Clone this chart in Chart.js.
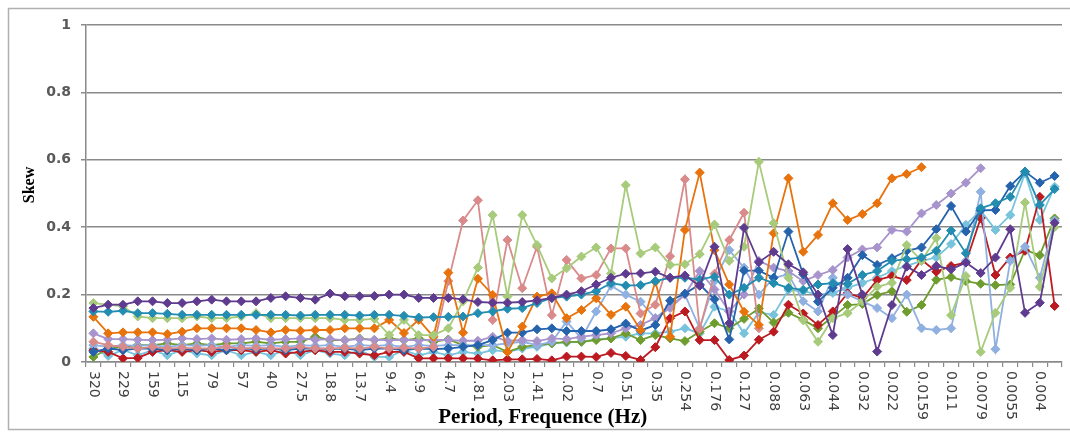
<!DOCTYPE html>
<html lang="en">
<head>
<meta charset="UTF-8">
<title>Skew by period</title>
<script src="https://cdn.jsdelivr.net/npm/chart.js"></script>
<style>
  html, body { margin: 0; padding: 0; background: #fff; }
  #wrap { width: 1070px; height: 434px; position: relative; }
</style>
</head>
<body>
<div id="wrap"><canvas id="skewChart"></canvas></div>
<script>
// period labels, only every other category carries one
const tickLabels = ['320', '229', '159', '115', '79', '57', '40', '27.5', '18.8', '13.7', '9.4',
  '6.9', '4.7', '2.81', '2.03', '1.41', '1.02', '0.7', '0.51', '0.35', '0.254', '0.176',
  '0.127', '0.088', '0.063', '0.044', '0.032', '0.022', '0.0159', '0.011', '0.0079', '0.0055', '0.004'];
const categories = tickLabels.flatMap(l => [l, '']);

const yTicks = [0, 0.2, 0.4, 0.6, 0.8, 1];

const skewPurple = [0.16, 0.17, 0.17, 0.18, 0.18, 0.175, 0.175, 0.18, 0.185, 0.18,
  0.18, 0.18, 0.19, 0.195, 0.19, 0.185, 0.203, 0.195, 0.195, 0.196,
  0.2, 0.2, 0.19, 0.19, 0.19, 0.186, 0.178, 0.176, 0.176, 0.178,
  0.183, 0.19, 0.2, 0.21, 0.23, 0.25, 0.262, 0.263, 0.268, 0.25,
  0.257, 0.226, 0.342, 0.115, 0.398, 0.296, 0.327, 0.29, 0.266, 0.2,
  0.08, 0.335, 0.2, 0.031, 0.169, 0.283, 0.258, 0.285, 0.275, 0.295,
  0.264, 0.31, 0.394, 0.146, 0.176, 0.413];

const skewTeal = [0.15, 0.149, 0.152, 0.145, 0.145, 0.143, 0.14, 0.14, 0.14, 0.14,
  0.14, 0.14, 0.14, 0.14, 0.138, 0.14, 0.14, 0.14, 0.138, 0.14,
  0.14, 0.137, 0.132, 0.133, 0.134, 0.135, 0.145, 0.15, 0.158, 0.16,
  0.175, 0.19, 0.194, 0.2, 0.21, 0.234, 0.227, 0.228, 0.24, 0.25,
  0.25, 0.245, 0.253, 0.2, 0.22, 0.25, 0.234, 0.22, 0.214, 0.23,
  0.234, 0.232, 0.258, 0.27, 0.3, 0.305, 0.31, 0.33, 0.39, 0.323,
  0.456, 0.471, 0.49, 0.565, 0.466, 0.513];

const skewLightGreen = [0.175, 0.17, 0.165, 0.135, 0.13, 0.13, 0.13, 0.135, 0.13, 0.13,
  0.135, 0.145, 0.13, 0.13, 0.13, 0.13, 0.13, 0.125, 0.125, 0.128,
  0.08, 0.125, 0.08, 0.08, 0.1, 0.18, 0.28, 0.436, 0.194, 0.436,
  0.347, 0.248, 0.278, 0.313, 0.34, 0.262, 0.525, 0.322, 0.34, 0.288,
  0.29, 0.32, 0.408, 0.3, 0.342, 0.594, 0.412, 0.25, 0.125, 0.06,
  0.13, 0.145, 0.18, 0.223, 0.235, 0.347, 0.3, 0.368, 0.139, 0.255,
  0.03, 0.146, 0.22, 0.473, 0.223, 0.4];

const skewOrange = [0.134, 0.085, 0.088, 0.088, 0.088, 0.083, 0.09, 0.1, 0.1, 0.1,
  0.1, 0.095, 0.088, 0.095, 0.093, 0.095, 0.095, 0.1, 0.1, 0.1,
  0.125, 0.086, 0.125, 0.075, 0.265, 0.087, 0.247, 0.199, 0.03, 0.105,
  0.194, 0.204, 0.13, 0.154, 0.189, 0.14, 0.164, 0.095, 0.238, 0.075,
  0.392, 0.562, 0.332, 0.23, 0.149, 0.11, 0.382, 0.545, 0.327, 0.377,
  0.471, 0.421, 0.439, 0.471, 0.545, 0.558, 0.578, null, null, null,
  null, null, null, null, null, null];

const skewPink = [0.06, 0.05, 0.045, 0.04, 0.045, 0.04, 0.042, 0.04, 0.04, 0.045,
  0.04, 0.042, 0.04, 0.04, 0.045, 0.04, 0.04, 0.042, 0.04, 0.045,
  0.04, 0.042, 0.04, 0.045, 0.24, 0.42, 0.48, 0.125, 0.362, 0.219,
  0.342, 0.139, 0.303, 0.248, 0.258, 0.337, 0.337, 0.144, 0.17, 0.314,
  0.542, 0.098, 0.262, 0.362, 0.443, 0.1, null, null, null, null,
  null, null, null, null, null, null, null, null, null, null,
  null, null, null, null, null, null];

const skewBlue = [0.03, 0.04, 0.035, 0.04, 0.04, 0.035, 0.04, 0.035, 0.04, 0.035,
  0.04, 0.038, 0.04, 0.035, 0.04, 0.04, 0.038, 0.04, 0.035, 0.04,
  0.04, 0.035, 0.04, 0.038, 0.04, 0.045, 0.05, 0.065, 0.087, 0.087,
  0.097, 0.1, 0.092, 0.092, 0.092, 0.097, 0.114, 0.093, 0.11, 0.182,
  0.203, 0.23, 0.186, 0.067, 0.271, 0.271, 0.25, 0.387, 0.26, 0.179,
  0.22, 0.25, 0.317, 0.288, 0.308, 0.33, 0.34, 0.394, 0.463, 0.387,
  0.45, 0.451, 0.522, 0.565, 0.532, 0.552];

const skewLavender = [0.085, 0.068, 0.068, 0.066, 0.065, 0.066, 0.07, 0.068, 0.07, 0.066,
  0.068, 0.07, 0.066, 0.068, 0.07, 0.066, 0.068, 0.065, 0.068, 0.066,
  0.065, 0.066, 0.064, 0.066, 0.065, 0.063, 0.063, 0.075, 0.063, 0.065,
  0.062, 0.07, 0.068, 0.075, 0.08, 0.085, 0.1, 0.11, 0.13, 0.16,
  0.2, 0.27, 0.215, 0.15, 0.2, 0.3, 0.28, 0.27, 0.24, 0.258,
  0.273, 0.31, 0.334, 0.34, 0.392, 0.387, 0.441, 0.466, 0.5, 0.532,
  0.575, null, null, null, null, null];

const skewAqua = [0.04, 0.018, 0.036, 0.02, 0.035, 0.02, 0.035, 0.025, 0.02, 0.035,
  0.02, 0.03, 0.02, 0.035, 0.02, 0.035, 0.025, 0.02, 0.035, 0.015,
  0.015, 0.035, 0.02, 0.03, 0.02, 0.03, 0.025, 0.035, 0.03, 0.04,
  0.045, 0.055, 0.058, 0.06, 0.068, 0.07, 0.075, 0.085, 0.085, 0.09,
  0.1, 0.085, 0.164, 0.15, 0.085, 0.147, 0.14, 0.214, 0.21, 0.2,
  0.205, 0.22, 0.235, 0.25, 0.27, 0.285, 0.3, 0.31, 0.35, 0.407,
  0.45, 0.392, 0.436, 0.56, 0.421, 0.52];

const skewSteel = [0.05, 0.045, 0.05, 0.048, 0.05, 0.045, 0.05, 0.048, 0.05, 0.045,
  0.05, 0.048, 0.05, 0.045, 0.05, 0.048, 0.05, 0.045, 0.05, 0.048,
  0.05, 0.045, 0.05, 0.048, 0.05, 0.05, 0.05, 0.05, 0.055, 0.06,
  0.05, 0.06, 0.12, 0.07, 0.15, 0.226, 0.2, 0.179, 0.13, 0.166,
  0.2, 0.1, 0.24, 0.332, 0.28, 0.2, 0.25, 0.26, 0.18, 0.15,
  0.25, 0.2, 0.18, 0.16, 0.13, 0.2, 0.1, 0.095, 0.1, 0.3,
  0.505, 0.038, 0.3, 0.342, 0.25, 0.42];

const skewRed = [0.035, 0.03, 0.011, 0.012, 0.03, 0.035, 0.03, 0.035, 0.03, 0.035,
  0.035, 0.03, 0.035, 0.025, 0.03, 0.035, 0.03, 0.03, 0.025, 0.02,
  0.03, 0.03, 0.011, 0.011, 0.011, 0.011, 0.01, 0.005, 0.008, 0.008,
  0.009, 0.005, 0.016, 0.016, 0.015, 0.027, 0.018, 0.006, 0.044, 0.13,
  0.15, 0.065, 0.065, 0.006, 0.019, 0.066, 0.09, 0.17, 0.144, 0.11,
  0.15, 0.204, 0.19, 0.243, 0.255, 0.243, 0.303, 0.268, 0.285, 0.295,
  0.427, 0.258, 0.31, 0.33, 0.49, 0.166];

const skewGreen = [0.015, 0.04, 0.045, 0.05, 0.05, 0.055, 0.05, 0.055, 0.05, 0.055,
  0.055, 0.06, 0.055, 0.06, 0.06, 0.075, 0.065, 0.065, 0.07, 0.065,
  0.07, 0.065, 0.07, 0.06, 0.067, 0.05, 0.045, 0.05, 0.03, 0.045,
  0.05, 0.055, 0.06, 0.06, 0.065, 0.07, 0.085, 0.065, 0.08, 0.07,
  0.062, 0.09, 0.115, 0.1, 0.128, 0.159, 0.117, 0.146, 0.125, 0.1,
  0.134, 0.169, 0.172, 0.199, 0.21, 0.149, 0.169, 0.244, 0.252, 0.24,
  0.232, 0.228, 0.23, 0.332, 0.317, 0.426];

// [data, colour] in drawing order
const seriesList = [
  [skewPurple, '#5f3b8f'],
  [skewTeal, '#228db0'],
  [skewLightGreen, '#a7cb7b'],
  [skewOrange, '#e8720c'],
  [skewPink, '#d98a8a'],
  [skewBlue, '#2563ad'],
  [skewLavender, '#a894cc'],
  [skewSteel, '#8fb0e0'],
  [skewRed, '#bb1a20'],
  [skewGreen, '#6f9c2f'],
  [skewAqua, '#78c3dc']
];

const gridGrey = '#8a8a8a';

// outer frame, rotated period labels and axis titles
const chartDecor = {
  id: 'chartDecor',
  beforeDraw(chart) {
    const ctx = chart.ctx;
    ctx.save();
    ctx.fillStyle = '#fff';
    ctx.fillRect(0, 0, chart.width, chart.height);
    ctx.strokeStyle = '#b0b0b0';
    ctx.lineWidth = 1.5;
    ctx.strokeRect(8.5, 8.5, chart.width, 421);
    ctx.restore();
  },
  afterDraw(chart) {
    const ctx = chart.ctx;
    const xs = chart.scales.x;
    const area = chart.chartArea;
    ctx.save();
    ctx.fillStyle = '#404040';
    ctx.font = '14px "DejaVu Sans"';
    ctx.textAlign = 'left';
    ctx.textBaseline = 'middle';
    chart.data.labels.forEach((lab, i) => {
      if (!lab) return;
      const x = xs.getPixelForValue(i);
      ctx.save();
      ctx.translate(x, area.bottom + 9);
      ctx.rotate(Math.PI / 2);
      ctx.fillText(lab, 0, 0);
      ctx.restore();
    });

    ctx.fillStyle = '#000';
    ctx.textAlign = 'center';
    ctx.font = 'bold 21px "Liberation Serif"';
    ctx.fillText('Period, Frequence (Hz)', area.left + 0.468 * (area.right - area.left), 418);

    ctx.save();
    ctx.translate(30, 185);
    ctx.rotate(-Math.PI / 2);
    ctx.font = 'bold 16px "Liberation Serif"';
    ctx.fillText('Skew', 0, 0);
    ctx.restore();
    ctx.restore();
  }
};

new Chart(document.getElementById('skewChart'), {
  type: 'line',
  data: {
    labels: categories,
    datasets: seriesList.map(([values, colour]) => ({
      data: values,
      borderColor: colour,
      backgroundColor: colour,
      pointBackgroundColor: colour,
      pointBorderColor: colour,
      borderWidth: 1.8,
      pointStyle: 'rectRot',
      pointRadius: 4.5,
      pointBorderWidth: 1,
      tension: 0,
      spanGaps: false,
      fill: false
    }))
  },
  options: {
    responsive: true,
    maintainAspectRatio: false,
    animation: false,
    layout: { padding: { top: 25, right: 8, left: 0, bottom: 0 } },
    plugins: {
      legend: { display: false },
      tooltip: { enabled: false }
    },
    scales: {
      x: {
        type: 'category',
        offset: true,
        afterFit: s => { s.height = 72; },
        grid: {
          display: true,
          offset: true,
          drawOnChartArea: false,
          drawTicks: true,
          tickLength: 5,
          color: gridGrey,
          lineWidth: 1.2
        },
        border: { color: gridGrey, width: 1.5 },
        ticks: { display: false, autoSkip: false }
      },
      y: {
        min: 0,
        max: 1,
        afterFit: s => { s.width = 86; },
        afterBuildTicks: s => { s.ticks = yTicks.map(v => ({ value: v })); },
        grid: {
          color: gridGrey,
          lineWidth: 1.5,
          drawTicks: true,
          tickLength: 5
        },
        border: { color: gridGrey, width: 1.5 },
        ticks: {
          padding: 10,
          color: '#595959',
          font: { family: '"DejaVu Sans"', size: 14, weight: 'bold' },
          callback: v => String(Number(v.toFixed(1)))
        }
      }
    }
  },
  plugins: [chartDecor]
});
</script>
</body>
</html>
